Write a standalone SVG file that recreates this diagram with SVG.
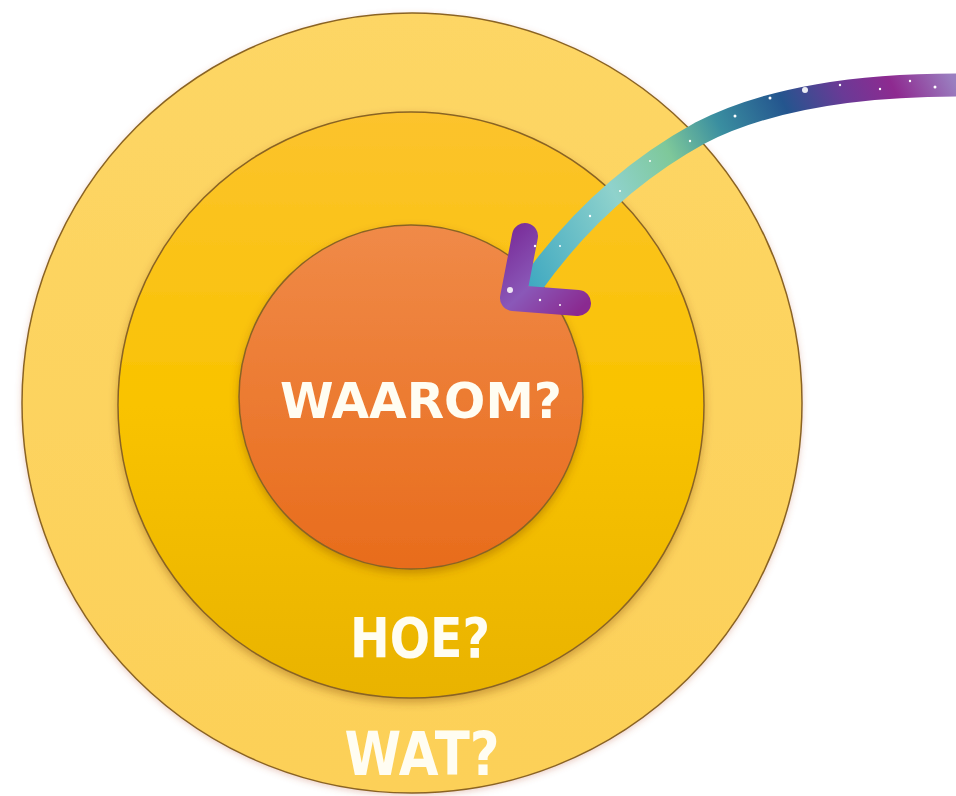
<svg xmlns="http://www.w3.org/2000/svg" width="956" height="796" viewBox="0 0 956 796">
  <style>
    .lbl { font-family: "DejaVu Sans", "Liberation Sans", sans-serif; font-weight: bold; fill: #fffdf2; text-anchor: middle; }
    .ring { stroke: #8a6424; stroke-width: 1.5; }
    .spark { fill: #ffffff; }
  </style>
  <defs>
    <linearGradient id="gOuter" x1="0" y1="0" x2="0" y2="1">
      <stop offset="0" stop-color="#fdd665"/>
      <stop offset="1" stop-color="#fcd058"/>
    </linearGradient>
    <linearGradient id="gMid" x1="0" y1="0" x2="0" y2="1">
      <stop offset="0" stop-color="#fcc32e"/>
      <stop offset="0.5" stop-color="#f9c300"/>
      <stop offset="1" stop-color="#e9b300"/>
    </linearGradient>
    <linearGradient id="gInner" x1="0" y1="0" x2="0" y2="1">
      <stop offset="0" stop-color="#f08a48"/>
      <stop offset="1" stop-color="#e86c1c"/>
    </linearGradient>
    <linearGradient id="gShaft" gradientUnits="userSpaceOnUse" x1="956" y1="85" x2="525" y2="295">
      <stop offset="0" stop-color="#9a7fc0"/>
      <stop offset="0.12" stop-color="#8e2a90"/>
      <stop offset="0.22" stop-color="#6a3a96"/>
      <stop offset="0.34" stop-color="#24558e"/>
      <stop offset="0.48" stop-color="#3a8ea0"/>
      <stop offset="0.6" stop-color="#7ec89a"/>
      <stop offset="0.74" stop-color="#8fd2cc"/>
      <stop offset="1" stop-color="#3aa6c0"/>
    </linearGradient>
    <linearGradient id="gHead" gradientUnits="userSpaceOnUse" x1="512" y1="230" x2="585" y2="305">
      <stop offset="0" stop-color="#7a2e9a"/>
      <stop offset="0.5" stop-color="#8a58b8"/>
      <stop offset="1" stop-color="#8a2a90"/>
    </linearGradient>
    <filter id="shadow" x="-10%" y="-10%" width="120%" height="120%">
      <feDropShadow dx="0" dy="4" stdDeviation="4" flood-color="#7a3a10" flood-opacity="0.35"/>
    </filter>
    <filter id="glow" x="-10%" y="-10%" width="120%" height="120%">
      <feDropShadow dx="0" dy="2" stdDeviation="3" flood-color="#c06040" flood-opacity="0.3"/>
    </filter>
  </defs>

  <rect width="956" height="796" fill="#ffffff"/>

  <g id="node-wat">
    <circle class="ring" cx="412" cy="403" r="390" fill="url(#gOuter)" filter="url(#glow)"/>
    <text class="lbl" x="422" y="775" font-size="60" textLength="155" lengthAdjust="spacingAndGlyphs">WAT?</text>
  </g>

  <g id="node-hoe">
    <circle class="ring" cx="411" cy="405" r="293" fill="url(#gMid)" filter="url(#shadow)"/>
    <text class="lbl" x="420" y="657" font-size="55" textLength="140" lengthAdjust="spacingAndGlyphs">HOE?</text>
  </g>

  <g id="node-waarom">
    <circle class="ring" cx="411" cy="397" r="172" fill="url(#gInner)" filter="url(#shadow)"/>
    <text class="lbl" x="421" y="418" font-size="50" textLength="282" lengthAdjust="spacingAndGlyphs">WAAROM?</text>
  </g>

  <g id="connectors">
    <path d="M 960 85 C 860 85 770 97 700 133 C 640 166 580 216 530 287" fill="none" stroke="url(#gShaft)" stroke-width="23" stroke-linecap="butt"/>
    <path d="M 525 236 L 513 298 L 578 303" fill="none" stroke="url(#gHead)" stroke-width="26" stroke-linecap="round" stroke-linejoin="round"/>
    <g class="spark">
      <circle cx="805" cy="90" r="3" opacity="0.9"/>
      <circle cx="770" cy="98" r="1.5"/>
      <circle cx="735" cy="116" r="1.5"/>
      <circle cx="840" cy="85" r="1.2"/>
      <circle cx="880" cy="89" r="1.2"/>
      <circle cx="910" cy="81" r="1.2"/>
      <circle cx="935" cy="87" r="1.5"/>
      <circle cx="690" cy="141" r="1.2"/>
      <circle cx="650" cy="161" r="1"/>
      <circle cx="620" cy="191" r="1"/>
      <circle cx="590" cy="216" r="1.2"/>
      <circle cx="560" cy="246" r="1"/>
      <circle cx="510" cy="290" r="3" opacity="0.85"/>
      <circle cx="535" cy="246" r="1.2"/>
      <circle cx="540" cy="300" r="1.2"/>
      <circle cx="560" cy="305" r="1"/>
    </g>
  </g>
</svg>
